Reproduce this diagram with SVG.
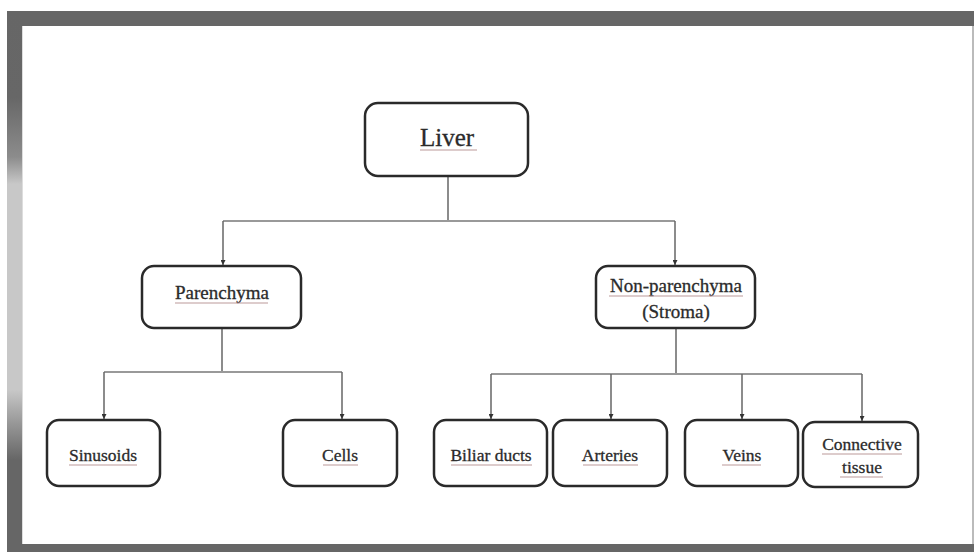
<svg xmlns="http://www.w3.org/2000/svg" width="974" height="552" viewBox="0 0 974 552">
<defs>
<linearGradient id="lg" gradientUnits="userSpaceOnUse" x1="0" y1="11" x2="0" y2="552">
<stop offset="0" stop-color="#666"/>
<stop offset="0.16" stop-color="#676767"/>
<stop offset="0.27" stop-color="#8c8c8c"/>
<stop offset="0.32" stop-color="#c8c8c8"/>
<stop offset="0.70" stop-color="#c8c8c8"/>
<stop offset="0.76" stop-color="#999"/>
<stop offset="0.83" stop-color="#666"/>
<stop offset="1" stop-color="#666"/>
</linearGradient>
<marker id="ah" viewBox="0 0 10 10" refX="10" refY="5" markerWidth="5" markerHeight="5" markerUnits="userSpaceOnUse" orient="auto">
<path d="M0,0 L10,5 L0,10 z" fill="#333"/>
</marker>
</defs>
<style>
.box{fill:#fff;stroke:#2a2a2a;stroke-width:2.5}
.t{font-family:"Liberation Serif","Times New Roman",serif;fill:#2b2b2b;stroke:#2b2b2b;stroke-width:0.3;text-anchor:middle}
.ul{stroke:#b99;stroke-width:1.2}
.c{fill:none;stroke:#666;stroke-width:1.5}
.h{fill:none;stroke:#999;stroke-width:2}
</style>
<rect x="0" y="0" width="974" height="552" fill="#fff"/>
<g id="frame">
<rect x="7" y="11" width="967" height="15" fill="#666"/>
<rect x="7" y="11" width="15" height="541" fill="url(#lg)"/>
<rect x="7" y="544" width="967" height="8" fill="#666"/>
<rect x="972" y="26" width="2" height="518" fill="#bbb"/>
<rect x="22" y="26" width="1" height="518" fill="#ddd"/>
</g>
<g id="connectors">
<path class="c" d="M448,176 V221"/>
<path class="h" d="M223,221 H675"/>
<path class="c" d="M223,221 V265" marker-end="url(#ah)"/>
<path class="c" d="M675,221 V265" marker-end="url(#ah)"/>
<path class="c" d="M222,328 V372"/>
<path class="h" d="M104,372 H342"/>
<path class="c" d="M104,372 V419" marker-end="url(#ah)"/>
<path class="c" d="M342,372 V419" marker-end="url(#ah)"/>
<path class="c" d="M676,328 V374"/>
<path class="h" d="M491,374 H862"/>
<path class="c" d="M491,374 V419" marker-end="url(#ah)"/>
<path class="c" d="M611,374 V419" marker-end="url(#ah)"/>
<path class="c" d="M742,374 V419" marker-end="url(#ah)"/>
<path class="c" d="M862,374 V421" marker-end="url(#ah)"/>
</g>
<g id="liver">
<rect class="box" x="365" y="103" width="163" height="73" rx="13"/>
<text class="t" x="447" y="146" font-size="25">Liver</text>
<line class="ul" x1="420" y1="150" x2="477" y2="150"/>
</g>
<g id="parenchyma">
<rect class="box" x="142" y="266" width="159" height="62" rx="12"/>
<text class="t" x="222" y="299" font-size="19">Parenchyma</text>
<line class="ul" x1="175" y1="303" x2="268" y2="303"/>
</g>
<g id="nonparenchyma">
<rect class="box" x="596" y="266" width="159" height="62" rx="12"/>
<text class="t" x="676" y="292" font-size="19">Non-parenchyma</text>
<line class="ul" x1="609" y1="296" x2="743" y2="296"/>
<text class="t" x="676" y="318" font-size="19">(Stroma)</text>
</g>
<g id="sinusoids">
<rect class="box" x="47" y="420" width="113" height="66" rx="12"/>
<text class="t" x="103" y="461" font-size="17.5">Sinusoids</text>
<line class="ul" x1="69" y1="465" x2="137" y2="465"/>
</g>
<g id="cells">
<rect class="box" x="283" y="420" width="114" height="66" rx="12"/>
<text class="t" x="340" y="461" font-size="17.5">Cells</text>
<line class="ul" x1="323" y1="465" x2="358" y2="465"/>
</g>
<g id="biliar">
<rect class="box" x="434" y="420" width="113" height="66" rx="12"/>
<text class="t" x="491" y="461" font-size="17.5">Biliar ducts</text>
<line class="ul" x1="451" y1="465" x2="532" y2="465"/>
</g>
<g id="arteries">
<rect class="box" x="553" y="420" width="114" height="66" rx="12"/>
<text class="t" x="610" y="461" font-size="17.5">Arteries</text>
<line class="ul" x1="583" y1="465" x2="638" y2="465"/>
</g>
<g id="veins">
<rect class="box" x="685" y="420" width="113" height="66" rx="12"/>
<text class="t" x="742" y="461" font-size="17.5">Veins</text>
<line class="ul" x1="722" y1="465" x2="761" y2="465"/>
</g>
<g id="connective">
<rect class="box" x="803" y="422" width="115" height="65" rx="12"/>
<text class="t" x="862" y="450" font-size="17.5">Connective</text>
<line class="ul" x1="822" y1="454" x2="902" y2="454"/>
<text class="t" x="862" y="473" font-size="17.5">tissue</text>
<line class="ul" x1="840" y1="477" x2="883" y2="477"/>
</g>
</svg>
